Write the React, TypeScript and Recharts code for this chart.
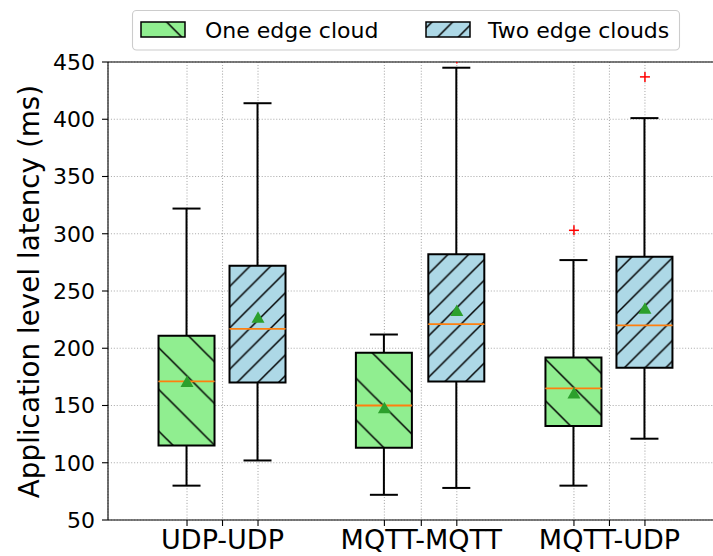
import React from 'react';
import { ComposedChart, Bar, Scatter, XAxis, YAxis, CartesianGrid, ReferenceLine } from 'recharts';

// ---------- data ----------
const categories = ['UDP-UDP', 'MQTT-MQTT', 'MQTT-UDP'];
const seriesNames = ['One edge cloud', 'Two edge clouds'];

const oneMin = [80, 72, 80];
const oneQ1 = [115, 113, 132];
const oneMedian = [171, 150, 165];
const oneQ3 = [211, 196, 192];
const oneMax = [322, 212, 277];
const oneMean = [171, 148, 161];
const oneOutliers: number[][] = [[], [], [303]];

const twoMin = [102, 78, 121];
const twoQ1 = [170, 171, 183];
const twoMedian = [217, 221, 220];
const twoQ3 = [272, 282, 280];
const twoMax = [414, 445, 401];
const twoMean = [227, 233, 235];
const twoOutliers: number[][] = [[], [453], [437]];

const yTicks = [50, 100, 150, 200, 250, 300, 350, 400, 450];

// ---------- layout ----------
const onePos = [1, 3.78, 6.45];
const twoPos = [2, 4.8, 7.45];
const labelPos = [1.5, 4.3, 6.95];
const xDomain: [number, number] = [-0.113, 8.648];
const xTicks = [...onePos, ...twoPos, ...labelPos].sort((a, b) => a - b);

const fills = ['#90ee90', '#add8e6'];
const hatchIds = ['hatchOne', 'hatchTwo'];
const FONT = 'DejaVu Sans, sans-serif';

const stats = [
  { min: oneMin, q1: oneQ1, med: oneMedian, q3: oneQ3, max: oneMax, mean: oneMean, out: oneOutliers, pos: onePos },
  { min: twoMin, q1: twoQ1, med: twoMedian, q3: twoQ3, max: twoMax, mean: twoMean, out: twoOutliers, pos: twoPos },
];

const boxRows = categories.flatMap((_, i) =>
  stats.map((s, k) => ({
    x: s.pos[i],
    series: k,
    base: s.min[i],
    lowW: s.q1[i] - s.min[i],
    lowB: s.med[i] - s.q1[i],
    highB: s.q3[i] - s.med[i],
    highW: s.max[i] - s.q3[i],
  }))
);

const meanRows = categories.flatMap((_, i) => stats.map((s) => ({ x: s.pos[i], mean: s.mean[i] })));
const outlierRows = categories.flatMap((_, i) =>
  stats.flatMap((s) => s.out[i].map((v) => ({ x: s.pos[i], value: v })))
);

// ---------- shapes ----------
const LW = 2;

const Empty = () => <g />;

const LowWhisker = (p: any) => {
  const { x, y, width, height } = p;
  const cx = x + width / 2;
  const yb = y + height;
  return (
    <g>
      <line x1={cx} x2={cx} y1={y} y2={yb} stroke="#000" strokeWidth={LW} />
      <line x1={cx - width / 4} x2={cx + width / 4} y1={yb} y2={yb} stroke="#000" strokeWidth={LW} />
    </g>
  );
};

const HighWhisker = (p: any) => {
  const { x, y, width, height } = p;
  const cx = x + width / 2;
  const yb = y + height;
  return (
    <g>
      <line x1={cx} x2={cx} y1={y} y2={yb} stroke="#000" strokeWidth={LW} />
      <line x1={cx - width / 4} x2={cx + width / 4} y1={y} y2={y} stroke="#000" strokeWidth={LW} />
    </g>
  );
};

const LowBox = (p: any) => {
  const { x, y, width, height, payload } = p;
  const k = payload.series;
  return (
    <g>
      <rect x={x} y={y} width={width} height={height} fill={fills[k]} />
      <rect x={x} y={y} width={width} height={height} fill={`url(#${hatchIds[k]})`} />
      <path d={`M${x},${y} L${x},${y + height} L${x + width},${y + height} L${x + width},${y}`} fill="none" stroke="#000" strokeWidth={LW} />
    </g>
  );
};

const HighBox = (p: any) => {
  const { x, y, width, height, payload } = p;
  const k = payload.series;
  const yb = y + height;
  return (
    <g>
      <rect x={x} y={y} width={width} height={height} fill={fills[k]} />
      <rect x={x} y={y} width={width} height={height} fill={`url(#${hatchIds[k]})`} />
      <path d={`M${x},${yb} L${x},${y} L${x + width},${y} L${x + width},${yb}`} fill="none" stroke="#000" strokeWidth={LW} />
      <line x1={x} x2={x + width} y1={yb} y2={yb} stroke="#ff7f0e" strokeWidth={1.8} />
    </g>
  );
};

const MeanMarker = (p: any) => {
  const { cx, cy } = p;
  return <polygon points={`${cx},${cy - 6} ${cx - 6.5},${cy + 5.5} ${cx + 6.5},${cy + 5.5}`} fill="#2ca02c" />;
};

const OutlierMarker = (p: any) => {
  const { cx, cy } = p;
  return (
    <g stroke="#ff0000" strokeWidth={1.5}>
      <line x1={cx - 5} x2={cx + 5} y1={cy} y2={cy} />
      <line x1={cx} x2={cx} y1={cy - 5} y2={cy + 5} />
    </g>
  );
};

const HatchDefs = ({ prefix }: { prefix: string }) => {
  const g = 41.7;
  const b = 20.7;
  return (
    <defs>
      <pattern id={`${prefix}${hatchIds[0]}`} patternUnits="userSpaceOnUse" x={0} y={22.2} width={g} height={g}>
        <path
          d={`M0,0 L${g},${g} M${-g / 4},${(3 * g) / 4} L${g / 4},${(5 * g) / 4} M${(3 * g) / 4},${-g / 4} L${(5 * g) / 4},${g / 4}`}
          stroke="#000"
          strokeWidth={1.5}
        />
      </pattern>
      <pattern id={`${prefix}${hatchIds[1]}`} patternUnits="userSpaceOnUse" x={0} y={19.3} width={b} height={b}>
        <path
          d={`M0,${b} L${b},0 M${-b / 4},${b / 4} L${b / 4},${-b / 4} M${(3 * b) / 4},${(5 * b) / 4} L${(5 * b) / 4},${(3 * b) / 4}`}
          stroke="#000"
          strokeWidth={1.5}
        />
      </pattern>
    </defs>
  );
};

const YLabel = () => (
  <text
    x={39}
    y={291.5}
    transform="rotate(-90 39 291.5)"
    textAnchor="middle"
    fontSize={27.8}
    fill="#000"
    fontFamily={FONT}
  >
    Application level latency (ms)
  </text>
);

const xTickFormatter = (v: number) => {
  const i = labelPos.indexOf(v);
  return i >= 0 ? categories[i] : '';
};

export default function App() {
  return (
    <div style={{ position: 'fixed', left: 0, top: 0, width: 713, height: 556, overflow: 'hidden', background: '#fff', fontFamily: FONT }}>
      <svg width={0} height={0} style={{ position: 'absolute' }}>
        <HatchDefs prefix="" />
      </svg>
      <ComposedChart
        width={740}
        height={556}
        data={boxRows}
        margin={{ top: 62, right: 10, bottom: 0, left: 0 }}
        style={{ fontFamily: FONT }}
      >
        <CartesianGrid stroke="#b0b0b0" strokeDasharray="1.1 1.8" strokeWidth={1.1} />
        <XAxis
          dataKey="x"
          type="number"
          domain={xDomain}
          ticks={xTicks}
          interval={0}
          allowDataOverflow
          height={36}
          tickFormatter={xTickFormatter}
          tick={{ fill: '#000', fontSize: 27 }}
          tickLine={{ stroke: '#000', strokeWidth: 1.1 }}
          axisLine={{ stroke: '#000', strokeWidth: 1.1 }}
          tickSize={6}
          tickMargin={4}
        />
        <YAxis
          type="number"
          domain={[50, 450]}
          ticks={yTicks}
          interval={0}
          allowDataOverflow
          width={108}
          tick={{ fill: '#000', fontSize: 22 }}
          tickLine={{ stroke: '#000', strokeWidth: 1.1 }}
          axisLine={{ stroke: '#000', strokeWidth: 1.1 }}
          tickSize={6}
          tickMargin={7}
          label={YLabel}
        />
        <ReferenceLine y={450} stroke="#000" strokeWidth={1.1} />
        <Bar dataKey="base" stackId="box" barSize={56} shape={Empty} isAnimationActive={false} />
        <Bar dataKey="lowW" stackId="box" barSize={56} shape={LowWhisker} isAnimationActive={false} />
        <Bar dataKey="lowB" stackId="box" barSize={56} shape={LowBox} isAnimationActive={false} />
        <Bar dataKey="highB" stackId="box" barSize={56} shape={HighBox} isAnimationActive={false} />
        <Bar dataKey="highW" stackId="box" barSize={56} shape={HighWhisker} isAnimationActive={false} />
        <Scatter data={meanRows} dataKey="mean" shape={MeanMarker} isAnimationActive={false} />
        <Scatter data={outlierRows} dataKey="value" shape={OutlierMarker} isAnimationActive={false} />
      </ComposedChart>
      <svg
        width={713}
        height={60}
        style={{ position: 'absolute', left: 0, top: 0, pointerEvents: 'none' }}
        fontFamily={FONT}
      >
        <HatchDefs prefix="lg" />
        <rect x={132.5} y={10.5} width={547} height={39.5} rx={4} fill="#fff" fillOpacity={0.8} stroke="#cccccc" strokeWidth={1.1} />
        {seriesNames.map((name, k) => {
          const px = k === 0 ? 141 : 426;
          const tx = k === 0 ? 205 : 488;
          return (
            <g key={name}>
              <rect x={px} y={22} width={44} height={15} fill={fills[k]} />
              <rect x={px} y={22} width={44} height={15} fill={`url(#lg${hatchIds[k]})`} />
              <rect x={px} y={22} width={44} height={15} fill="none" stroke="#000" strokeWidth={1.5} />
              <text x={tx} y={38} fontSize={22} fill="#000">
                {name}
              </text>
            </g>
          );
        })}
      </svg>
    </div>
  );
}
